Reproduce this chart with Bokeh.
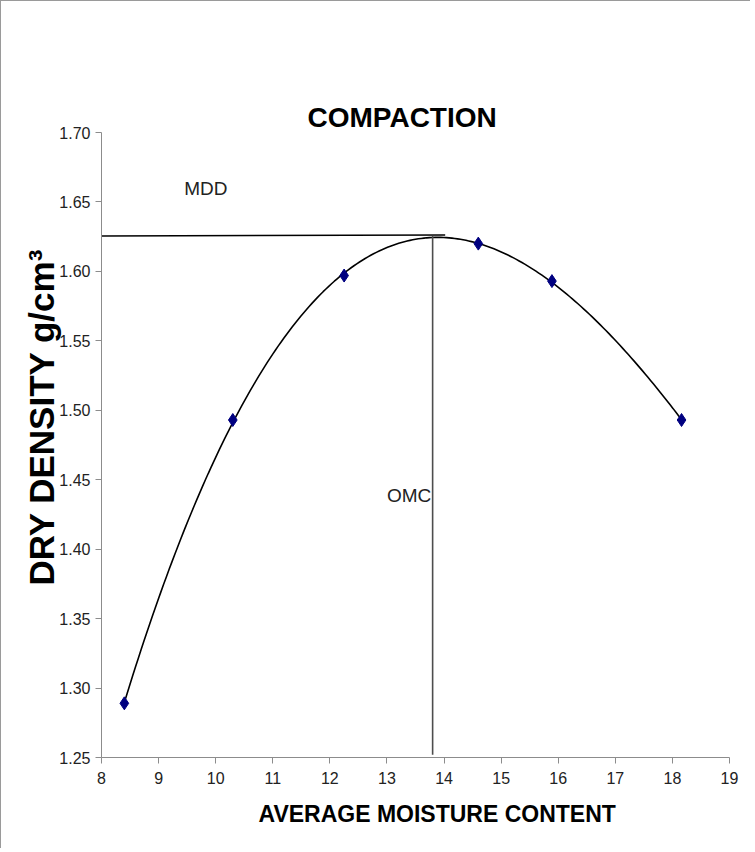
import numpy as np
from bokeh.plotting import figure
from bokeh.models import Range1d, FixedTicker, NumeralTickFormatter, Label, Title
from bokeh.embed import file_html
from bokeh.resources import INLINE

# data
moisture = [8.40, 10.30, 12.25, 14.60, 15.89, 18.16]
density = [1.289, 1.493, 1.597, 1.620, 1.593, 1.493]
mdd_x = [8.0, 14.02]
mdd_y = [1.6255, 1.6262]
omc_x = [13.80, 13.80]
omc_y = [1.252, 1.6255]
x_ticks = [8, 9, 10, 11, 12, 13, 14, 15, 16, 17, 18, 19]
y_ticks = [1.25, 1.30, 1.35, 1.40, 1.45, 1.50, 1.55, 1.60, 1.65, 1.70]

W, H = 750, 848
p = figure(width=W, height=H, output_backend="svg", toolbar_location=None,
           x_range=Range1d(8, 19), y_range=Range1d(1.25, 1.70),
           min_border_left=100, min_border_right=22, min_border_top=131, min_border_bottom=92,
           styles={"border-left": "1px solid #9a9a9a", "border-top": "1px solid #9a9a9a"})
p.outline_line_color = None
p.grid.visible = False
p.background_fill_color = "white"
p.border_fill_color = "white"

FONT = "Liberation Sans"
for ax in (p.xaxis[0], p.yaxis[0]):
    ax.axis_line_color = "#8c8c8c"
    ax.major_tick_line_color = "#8c8c8c"
    ax.major_tick_out = 6
    ax.major_tick_in = 0
    ax.minor_tick_line_color = None
    ax.major_label_text_font = FONT
    ax.major_label_text_font_size = "16px"
    ax.major_label_text_color = "#222222"
p.xaxis.ticker = FixedTicker(ticks=x_ticks)
p.yaxis.ticker = FixedTicker(ticks=y_ticks)
p.yaxis.formatter = NumeralTickFormatter(format="0.00")
p.xaxis.major_label_standoff = 8
p.yaxis.major_label_standoff = 5

# third-order polynomial trendline fitted to the measured points
coef = np.polyfit(moisture, density, 3)
xf = np.linspace(min(moisture), max(moisture), 200)
p.line(xf, np.polyval(coef, xf), line_color="black", line_width=1.6)

p.line(mdd_x, mdd_y, line_color="black", line_width=1.6)
p.line(omc_x, omc_y, line_color="#4d4d4d", line_width=1.6)

p.scatter(moisture, density, marker="diamond", size=13, fill_color="#000080", line_color="#000080")

p.add_layout(Label(x=9.45, y=1.652, text="MDD", text_font=FONT,
                   text_font_size="19px", text_color="#222222"))
p.add_layout(Label(x=13.0, y=1.4308, text="OMC", text_font=FONT,
                   text_font_size="19px", text_color="#222222"))

# empty spacer between the title and the plot area
p.add_layout(Title(text="", text_font_size="1px", standoff=54), "above")
p.add_layout(Title(text="COMPACTION", text_font=FONT, text_font_style="bold",
                   text_font_size="28px", align="left", offset=206, standoff=0,
                   text_color="black"), "above")
p.add_layout(Title(text="AVERAGE MOISTURE CONTENT", text_font=FONT, text_font_style="bold",
                   text_font_size="23px", align="left", offset=157, standoff=24,
                   text_color="black"), "below")
p.add_layout(Title(text="DRY DENSITY g/cm³", text_font=FONT, text_font_style="bold",
                   text_font_size="35px", align="left", offset=172, standoff=-9,
                   text_color="black"), "left")

open("out.html", "w").write(file_html(p, INLINE))
